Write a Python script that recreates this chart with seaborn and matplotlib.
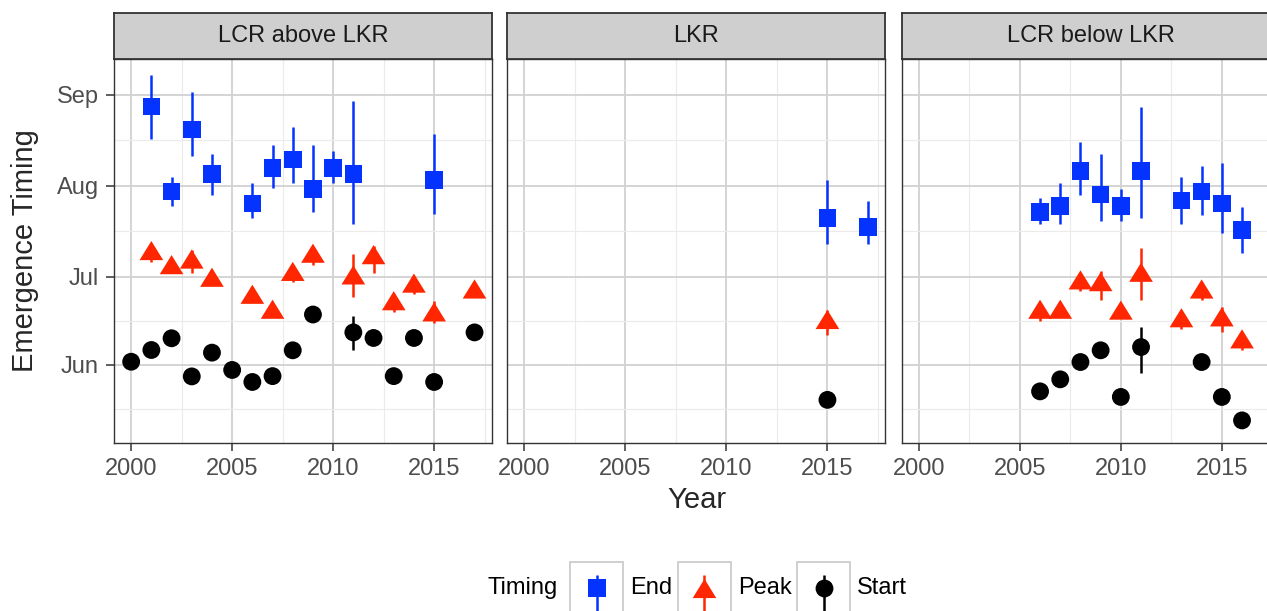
import numpy as np
import pandas as pd
import matplotlib
matplotlib.use("Agg")
import matplotlib.pyplot as plt
import seaborn as sns
from matplotlib.path import Path
from matplotlib.patches import Rectangle

# ---------------- data (day of year) ----------------
panels = ["LCR above LKR", "LKR", "LCR below LKR"]
timings = ["End", "Peak", "Start"]
month_ticks = [152, 182, 213, 244]
month_labels = ["Jun", "Jul", "Aug", "Sep"]
year_ticks = [2000, 2005, 2010, 2015]

# LCR above LKR
above_end_year = [2001, 2002, 2003, 2004, 2006, 2007, 2008, 2009, 2010, 2011, 2015]
above_end_doy = [240.0, 211.0, 232.1, 217.0, 206.9, 219.0, 222.0, 211.9, 219.0, 217.0, 215.0]
above_end_lo = [229.1, 206.0, 223.0, 210.0, 202.0, 212.1, 214.1, 204.1, 213.8, 200.1, 203.2]
above_end_hi = [250.9, 215.9, 244.9, 223.8, 213.8, 226.8, 233.0, 226.8, 224.7, 241.9, 230.7]

above_peak_year = [2001, 2002, 2003, 2004, 2006, 2007, 2008, 2009, 2011, 2012, 2013, 2014, 2015, 2017]
above_peak_doy = [190.9, 186.1, 188.0, 181.8, 176.0, 170.9, 183.8, 190.0, 182.6, 189.5, 173.8, 179.8, 170.0, 177.8]
above_peak_lo = [187.1, 186.1, 183.1, 181.8, 176.0, 170.9, 180.2, 186.1, 175.1, 183.1, 170.0, 176.0, 166.2, 177.8]
above_peak_hi = [192.7, 186.1, 191.0, 181.8, 176.0, 170.9, 185.4, 191.9, 189.7, 192.6, 175.6, 181.6, 173.7, 177.8]

above_start_year = [2000, 2001, 2002, 2003, 2004, 2005, 2006, 2007, 2008, 2009, 2011, 2012, 2013, 2014, 2015, 2017]
above_start_doy = [153.0, 157.0, 161.0, 148.0, 156.1, 150.2, 146.1, 148.1, 156.9, 169.1, 163.0, 161.1, 148.1, 161.1, 146.1, 163.0]
above_start_lo = [153.0, 157.0, 161.0, 148.0, 156.1, 150.2, 146.1, 148.1, 156.9, 169.1, 157.0, 161.1, 148.1, 161.1, 146.1, 163.0]
above_start_hi = [153.0, 157.0, 161.0, 148.0, 156.1, 150.2, 146.1, 148.1, 156.9, 169.1, 168.7, 161.1, 148.1, 161.1, 146.1, 163.0]

# LKR
lkr_end_year = [2015, 2017]
lkr_end_doy = [202.0, 198.9]
lkr_end_lo = [193.2, 193.2]
lkr_end_hi = [214.8, 207.9]

lkr_peak_year = [2015]
lkr_peak_doy = [167.4]
lkr_peak_lo = [162.0]
lkr_peak_hi = [170.8]

lkr_start_year = [2015]
lkr_start_doy = [140.0]
lkr_start_lo = [140.0]
lkr_start_hi = [140.0]

# LCR below LKR
below_end_year = [2006, 2007, 2008, 2009, 2010, 2011, 2013, 2014, 2015, 2016]
below_end_doy = [204.0, 206.0, 218.1, 210.0, 206.0, 218.1, 208.0, 211.0, 206.9, 198.0]
below_end_lo = [200.1, 200.1, 210.0, 201.0, 201.0, 202.0, 200.1, 202.9, 197.0, 190.1]
below_end_hi = [208.7, 213.8, 227.8, 223.8, 211.8, 239.9, 215.9, 219.8, 220.7, 205.8]

below_peak_year = [2006, 2007, 2008, 2009, 2010, 2011, 2013, 2014, 2015, 2016]
below_peak_doy = [170.9, 170.9, 180.9, 180.3, 170.6, 183.5, 168.0, 177.8, 168.3, 160.8]
below_peak_lo = [167.0, 170.9, 177.1, 174.0, 170.6, 174.0, 164.2, 174.0, 163.0, 157.0]
below_peak_hi = [172.8, 170.9, 182.7, 184.0, 170.6, 191.7, 169.8, 179.6, 171.7, 162.6]

below_start_year = [2006, 2007, 2008, 2009, 2010, 2011, 2014, 2015, 2016]
below_start_doy = [142.9, 147.0, 152.9, 156.9, 141.0, 158.0, 152.9, 141.0, 133.0]
below_start_lo = [142.9, 147.0, 152.9, 156.9, 141.0, 149.0, 152.9, 141.0, 133.0]
below_start_hi = [142.9, 147.0, 152.9, 156.9, 141.0, 164.7, 152.9, 141.0, 133.0]

# ---------------- build table ----------------
rows = []
def add(panel, timing, yrs, doy, lo, hi):
    for a, b, c, d in zip(yrs, doy, lo, hi):
        rows.append(dict(Panel=panel, Timing=timing, Year=a, DOY=b, lo=c, hi=d))

add(panels[0], "End", above_end_year, above_end_doy, above_end_lo, above_end_hi)
add(panels[0], "Peak", above_peak_year, above_peak_doy, above_peak_lo, above_peak_hi)
add(panels[0], "Start", above_start_year, above_start_doy, above_start_lo, above_start_hi)
add(panels[1], "End", lkr_end_year, lkr_end_doy, lkr_end_lo, lkr_end_hi)
add(panels[1], "Peak", lkr_peak_year, lkr_peak_doy, lkr_peak_lo, lkr_peak_hi)
add(panels[1], "Start", lkr_start_year, lkr_start_doy, lkr_start_lo, lkr_start_hi)
add(panels[2], "End", below_end_year, below_end_doy, below_end_lo, below_end_hi)
add(panels[2], "Peak", below_peak_year, below_peak_doy, below_peak_lo, below_peak_hi)
add(panels[2], "Start", below_start_year, below_start_doy, below_start_lo, below_start_hi)
df = pd.DataFrame(rows)

# ---------------- styling ----------------
sns.set_theme(style="white")
plt.rcParams['font.family'] = ['Liberation Sans', 'DejaVu Sans']

tri = Path([(0, 0.81), (-1, -0.81), (1, -0.81), (0, 0.81)],
           [Path.MOVETO, Path.LINETO, Path.LINETO, Path.CLOSEPOLY])
colors = {"End": "#0433FF", "Peak": "#FF2600", "Start": "#000000"}
markers = {"End": "s", "Peak": tri, "Start": "o"}
msize = {"End": 160, "Peak": 290, "Start": 165}

FW, FH = 1267, 611
fig = plt.figure(figsize=(FW / 100, FH / 100), dpi=100)
fig.patch.set_facecolor("white")

lefts = [114.0, 507.3, 901.7]
W = 377.7
top_px, bot_px, strip_top = 59.3, 442.7, 12.7

for i, panel in enumerate(panels):
    ax = fig.add_axes([lefts[i] / FW, (FH - bot_px) / FH, W / FW, (bot_px - top_px) / FH])
    sub = df[df.Panel == panel]
    for t in timings:
        s = sub[sub.Timing == t]
        ax.vlines(s.Year, s.lo, s.hi, color=colors[t], lw=1.8, zorder=3)
    for t in timings:
        s = sub[sub.Timing == t]
        sns.scatterplot(data=s, x="Year", y="DOY", marker=markers[t], color=colors[t],
                        s=msize[t], linewidth=0, edgecolor="none", ax=ax, zorder=4,
                        legend=False)
    ax.set_xlim(1999.15, 2017.85)
    ax.set_ylim(125.4, 256.1)
    ax.set_xticks(year_ticks)
    ax.set_xticklabels([str(y) for y in year_ticks])
    ax.set_xticks([2002.5, 2007.5, 2012.5, 2017.5], minor=True)
    ax.set_yticks(month_ticks)
    ax.set_yticklabels(month_labels)
    ax.set_yticks([137, 167, 197.5, 228.5], minor=True)
    ax.grid(which="major", color="#D1D1D1", lw=1.3)
    ax.grid(which="minor", color="#EBEBEB", lw=0.8)
    ax.set_axisbelow(True)
    ax.set_xlabel("")
    ax.set_ylabel("")
    for sp in ax.spines.values():
        sp.set_color("#333333")
        sp.set_linewidth(1.0)
    ax.tick_params(which="major", length=5.8, width=1.1, color="#333333",
                   labelsize=17, labelcolor="#4D4D4D", pad=5.3,
                   bottom=True, left=(i == 0), labelleft=(i == 0))
    ax.tick_params(which="minor", length=0)

    sax = fig.add_axes([lefts[i] / FW, (FH - top_px) / FH, W / FW, (top_px - strip_top) / FH])
    sax.set_facecolor("#CFCFCF")
    sax.set_xticks([])
    sax.set_yticks([])
    for sp in sax.spines.values():
        sp.set_color("#333333")
        sp.set_linewidth(1.3)
    sax.text(0.5, 0.5, panel, ha="center", va="center", fontsize=17,
             color="#1A1A1A", transform=sax.transAxes)

fig.text(697 / FW, 1 - 508.3 / FH, "Year", ha="center", va="baseline", fontsize=21)
fig.text(25 / FW, 1 - 251 / FH, "Emergence Timing", ha="center", va="center",
         rotation=90, fontsize=21)

# ---------------- legend (ggplot-style keys) ----------------
lax = fig.add_axes([0, 0, 1, 1], zorder=10)
lax.set_xlim(0, FW)
lax.set_ylim(FH, 0)
lax.axis("off")
ly = 588.3
lax.text(487, ly, "Timing", ha="left", va="center", fontsize=17, color="black")
key_x = [570.0, 677.7, 797.0]
for kx, t in zip(key_x, timings):
    lax.add_patch(Rectangle((kx, 561.7), 53, 53, facecolor="white",
                            edgecolor="#CCCCCC", lw=1.3))
    cx = kx + 26.5
    lax.plot([cx, cx], [575, 611], color=colors[t], lw=1.8, solid_capstyle="butt")
    lax.scatter([cx], [ly], marker=markers[t], s=msize[t], color=colors[t],
                linewidth=0, zorder=5)
    lax.text(kx + 60, ly, t, ha="left", va="center", fontsize=17, color="black")

fig.savefig("out.png", dpi=100)
